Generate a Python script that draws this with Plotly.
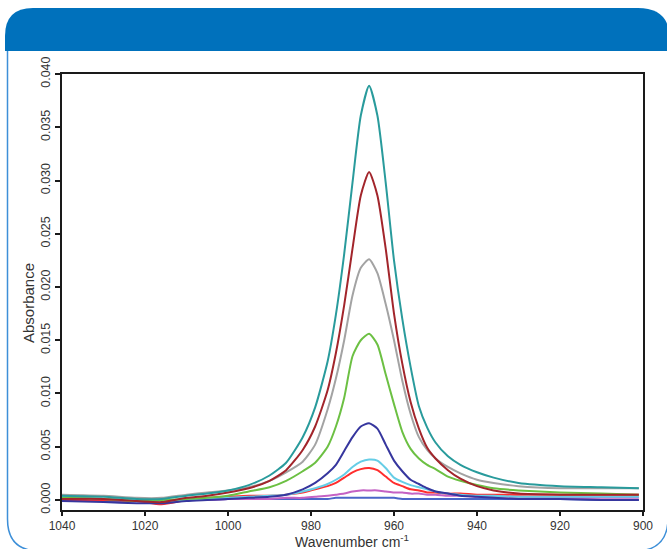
import plotly.graph_objects as go

# Wavenumber grid (cm-1)
wavenumber = [1040, 1030, 1022, 1016, 1010, 1005, 1000, 995, 990, 986, 982, 979, 976, 974, 972, 970, 968, 966,
              964, 962, 960, 958, 956, 954, 952, 950, 947, 944, 940, 936, 930, 920, 910, 901]

teal = [.0004, .0003, .0001, .0001, .0004, .0006, .0009, .0014, .0023, .0035, .0059, .0087, .0130, .0174, .0231, .0298, .0361, .0389,
        .0361, .0298, .0225, .0170, .0125, .0088, .0068, .0054, .0041, .0033, .0026, .0021, .0016, .0013, .0012, .0011]
darkred = [.0001, .0001, -.0001, -.0002, .0002, .0004, .0007, .0011, .0018, .0028, .0047, .0069, .0103, .0138, .0183, .0236, .0286, .0308,
           .0286, .0236, .0175, .0128, .0092, .0067, .0049, .0039, .0028, .0020, .0013, .0009, .0006, .0005, .0005, .0005]
gray = [.0005, .0004, .0002, .0002, .0005, .0007, .0009, .0012, .0018, .0026, .0036, .0052, .0085, .0114, .0150, .0192, .0218, .0226,
        .0213, .0184, .0150, .0112, .0081, .0059, .0047, .0039, .0031, .0025, .0019, .0016, .0013, .0011, .0011, .0011]
green = [.0002, .0001, -.0001, .0000, .0001, .0002, .0004, .0008, .0012, .0018, .0027, .0035, .0050, .0069, .0096, .0135, .0150, .0156,
         .0146, .0118, .0090, .0064, .0048, .0039, .0033, .0029, .0022, .0018, .0014, .0011, .0009, .0007, .0006, .0005]
navy = [-.0001, -.0002, -.0003, -.0003, -.0001, .0000, .0001, .0002, .0003, .0005, .0010, .0016, .0025, .0033, .0046, .0059, .0069, .0072,
        .0067, .0052, .0037, .0027, .0019, .0015, .0011, .0008, .0006, .0004, .0003, .0002, .0001, .0001, .0000, .0000]
cyan = [.0003, .0001, .0000, -.0001, .0000, .0001, .0002, .0003, .0004, .0005, .0008, .0011, .0015, .0019, .0024, .0031, .0036, .0038,
        .0037, .0030, .0021, .0017, .0014, .0012, .0010, .0008, .0006, .0005, .0004, .0004, .0003, .0003, .0003, .0003]
red = [.0000, .0000, -.0001, -.0004, .0000, .0002, .0003, .0004, .0004, .0005, .0007, .0010, .0013, .0016, .0021, .0026, .0029, .0030,
       .0028, .0022, .0016, .0013, .0010, .0009, .0007, .0007, .0006, .0006, .0005, .0005, .0005, .0005, .0005, .0005]
magenta = [.0001, .0001, .0000, .0000, .0000, .0000, .0001, .0001, .0001, .0002, .0002, .0003, .0004, .0005, .0006, .0008, .0009, .0009,
           .0009, .0008, .0007, .0007, .0006, .0006, .0005, .0005, .0004, .0004, .0003, .0003, .0003, .0002, .0002, .0002]
blue = [-.0001, -.0001, -.0001, -.0001, .0000, .0000, .0001, .0001, .0001, .0001, .0001, .0001, .0001, .0002, .0002, .0002, .0002, .0002,
        .0002, .0002, .0002, .0001, .0001, .0001, .0001, .0001, .0001, .0001, .0001, .0001, .0001, .0001, .0000, .0000]

x_ticks = [1040, 1020, 1000, 980, 960, 940, 920, 900]
y_ticks = [0.000, 0.005, 0.010, 0.015, 0.020, 0.025, 0.030, 0.035, 0.040]
y_ticktext = ["0.000", "0.005", "0.010", "0.015", "0.020", "0.025", "0.030", "0.035", "0.040"]

series = [
    ("blue", blue, "#4a66c8"),
    ("magenta", magenta, "#c462c4"),
    ("red", red, "#ff2e2e"),
    ("cyan", cyan, "#66cde6"),
    ("navy", navy, "#36369e"),
    ("green", green, "#6cc043"),
    ("gray", gray, "#a3a3a3"),
    ("darkred", darkred, "#a2252b"),
    ("teal", teal, "#299b9c"),
]

W, H = 667, 549
L, R, T, B = 62, 643, 74, 510


def px(x):
    return (x - L) / (R - L)


def py(y):
    return (B - y) / (B - T)


fig = go.Figure()
for name, vals, col in series:
    fig.add_trace(go.Scatter(x=wavenumber, y=vals, mode="lines", name=name,
                             line=dict(color=col, width=2, shape="spline", smoothing=0.6),
                             showlegend=False))

header = (f"M {px(5)},{py(51)} L {px(5)},{py(36)} Q {px(5)},{py(8)} {px(33)},{py(8)} "
          f"L {px(638)},{py(8)} Q {px(670)},{py(8)} {px(670)},{py(40)} L {px(670)},{py(51)} Z")
frame = (f"M {px(7.5)},{py(51)} L {px(7.5)},{py(519)} Q {px(7.5)},{py(551)} {px(39.5)},{py(551)} "
         f"L {px(635)},{py(551)} Q {px(668)},{py(551)} {px(668)},{py(518)}")

font_family = "Liberation Sans, Arial, sans-serif"

fig.update_layout(
    width=W, height=H,
    margin=dict(l=L, r=W - R, t=T, b=H - B),
    paper_bgcolor="white", plot_bgcolor="white",
    font=dict(family=font_family, color="#333333", size=13),
    shapes=[
        dict(type="path", path=header, xref="paper", yref="paper",
             fillcolor="#0071bc", line=dict(width=0), layer="below"),
        dict(type="path", path=frame, xref="paper", yref="paper",
             line=dict(color="#3d8fd8", width=1.5), layer="below"),
    ],
    annotations=[
        dict(text="Absorbance", x=px(28), y=py(303), xref="paper", yref="paper",
             textangle=-90, showarrow=False, xanchor="center", yanchor="middle",
             font=dict(size=15, color="#333333", family=font_family)),
        dict(text="Wavenumber cm<sup>-1</sup>", x=px(352), y=py(540.5), xref="paper", yref="paper",
             showarrow=False, xanchor="center", yanchor="middle", borderpad=0,
             font=dict(size=14, color="#333333", family=font_family)),
    ],
)
fig.update_xaxes(range=[1040, 900], tickvals=x_ticks, ticks="outside", ticklen=4, tickwidth=1.5,
                 tickcolor="#1a1a1a", showline=True, linecolor="#1a1a1a", linewidth=2, mirror=True,
                 showgrid=False, zeroline=False, tickfont=dict(size=12))
fig.update_yaxes(range=[-0.00094, 0.040], tickvals=y_ticks, ticktext=y_ticktext, ticks="outside",
                 ticklen=5, tickwidth=1.5, tickcolor="#1a1a1a", showline=True, linecolor="#1a1a1a",
                 linewidth=2, mirror=True, showgrid=False, zeroline=False, tickangle=-90,
                 tickfont=dict(size=12.5))

fig.write_html("out.html", config={"displayModeBar": False},
               post_script="document.body.style.margin='0';document.body.style.overflow='hidden';")
